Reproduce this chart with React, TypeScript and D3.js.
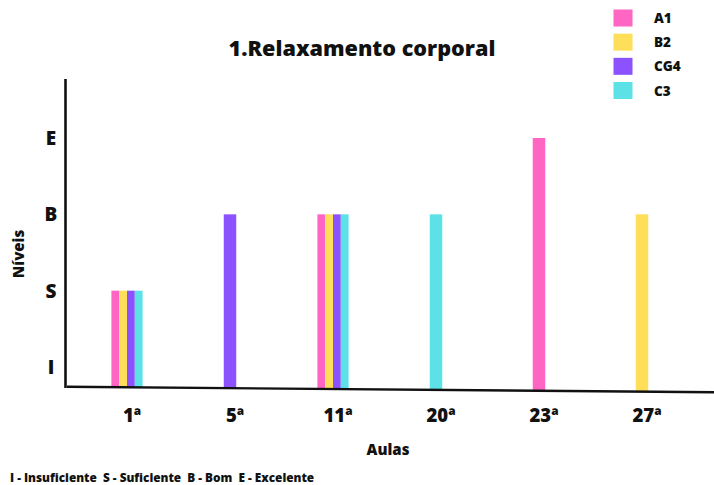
import React from "react";
import * as d3 from "d3";

const categories = ["1ª", "5ª", "11ª", "20ª", "23ª", "27ª"];
const seriesNames = ["A1", "B2", "CG4", "C3"];
const seriesColors = ["#FF66C4", "#FFDE59", "#8C52FF", "#5CE1E6"];
// level values: I=1, S=2, B=3, E=4 ; null = no bar
const A1 = [2, null, 3, null, 4, null];
const B2 = [2, null, 3, null, null, 3];
const CG4 = [2, 3, 3, null, null, null];
const C3 = [2, null, 3, 3, null, null];
const levelLabels = ["I", "S", "B", "E"];
const levelValues = [1, 2, 3, 4];
const legendText = "I - Insuficiente  S - Suficiente  B - Bom  E - Excelente";

const W = 714;
const H = 485;
const FONT = "'Open Sans', 'Noto Sans', sans-serif";

export default function App() {
  const series = [A1, B2, CG4, C3];
  const x = d3.scalePoint<string>().domain(categories).range([127, 642]);
  const y = d3.scaleLinear().domain([1, 4]).range([367, 138]);
  const axisX0 = 67;
  const axisX1 = 714;
  const axisY0 = 386.8;
  const axisY1 = 392.3;
  const base = d3.scaleLinear().domain([axisX0, axisX1]).range([axisY0, axisY1]);

  const bars: JSX.Element[] = [];
  categories.forEach((c, ci) => {
    const present = series
      .map((s, si) => ({ si, v: s[ci] }))
      .filter((d) => d.v !== null) as { si: number; v: number }[];
    const bw = present.length > 1 ? 7.8 : 12.5;
    const cx = x(c)!;
    const start = cx - (bw * present.length) / 2;
    present.forEach((d, k) => {
      const bx = start + k * bw;
      const top = y(d.v);
      const bottom = base(bx + bw / 2);
      bars.push(
        <rect
          key={`${ci}-${d.si}`}
          x={bx}
          y={top}
          width={bw}
          height={bottom - top}
          fill={seriesColors[d.si]}
        />
      );
    });
  });

  const legendY = d3.scaleLinear().domain([0, 3]).range([9.5, 82]);

  return (
    <svg
      width={W}
      height={H}
      style={{ position: "absolute", left: 0, top: 0, background: "#fff" }}
      fontFamily={FONT}
    >
      <rect x={0} y={0} width={W} height={H} fill="#fff" />
      <text x={362} y={56} textAnchor="middle" fontSize={21.6} fontWeight={800} fill="#111">
        1.Relaxamento corporal
      </text>

      {seriesNames.map((n, i) => (
        <g key={n}>
          <rect x={613.5} y={legendY(i)} width={19} height={17} fill={seriesColors[i]} />
          <text x={654} y={legendY(i) + 13.5} fontSize={13.5} fontWeight={800} fill="#111">
            {n}
          </text>
        </g>
      ))}

      {bars}

      {/* y axis */}
      <line x1={65.5} y1={79} x2={65.5} y2={388} stroke="#111" strokeWidth={2.6} />
      {/* x axis */}
      <line x1={axisX0} y1={axisY0} x2={axisX1} y2={axisY1} stroke="#111" strokeWidth={2.4} />

      {levelLabels.map((l, i) => (
        <text
          key={l}
          x={51}
          y={y(levelValues[i]) + 7}
          textAnchor="middle"
          fontSize={19}
          fontWeight={800}
          fill="#111"
        >
          {l}
        </text>
      ))}

      {categories.map((c) => (
        <text
          key={c}
          x={x(c)! + 5}
          y={421.5}
          textAnchor="middle"
          fontSize={18.5}
          fontWeight={800}
          fill="#111"
        >
          {c}
        </text>
      ))}

      <text
        transform="translate(24,254) rotate(-90)"
        textAnchor="middle"
        fontSize={15}
        fontWeight={800}
        fill="#111"
      >
        Níveis
      </text>
      <text x={388} y={455} textAnchor="middle" fontSize={15} fontWeight={800} fill="#111">
        Aulas
      </text>
      <text x={10} y={482} fontSize={11.8} fontWeight={800} fill="#111" style={{ whiteSpace: "pre" }}>
        {legendText}
      </text>
    </svg>
  );
}
